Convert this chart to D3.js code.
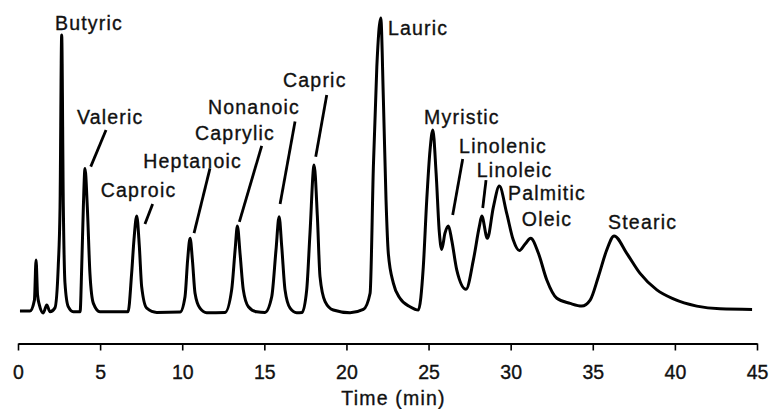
<!DOCTYPE html>
<html>
<head>
<meta charset="utf-8">
<script src="https://cdn.jsdelivr.net/npm/d3@7"></script>
<style>
  body { margin: 0; background: #fff; }
  text { font-family: "Liberation Sans", Arial, sans-serif; fill: #111; stroke: #111; stroke-width: 0.35px; }
</style>
</head>
<body>
<div id="chart"></div>
<script>
const width = 770;
const height = 409;

// chromatogram trace: time (min) and detector signal (arbitrary units)
const timeMin = [0.12, 0.73, 1.00, 1.10, 1.19, 1.30, 1.54, 1.75, 1.95, 2.25,
  2.45, 2.56, 2.66, 2.76, 2.86, 3.06, 3.37, 3.78, 3.88, 3.98,
  4.08, 4.22, 4.38, 4.59, 4.99, 6.70, 6.92, 7.06, 7.23, 7.39,
  7.53, 7.84, 8.45, 9.87, 10.17, 10.33, 10.48, 10.62, 10.78, 11.08,
  11.49, 12.61, 13.01, 13.22, 13.36, 13.52, 13.72, 14.03, 14.54, 15.04,
  15.45, 15.71, 15.90, 16.06, 16.26, 16.57, 16.97, 17.30, 17.58, 17.78,
  18.03, 18.23, 18.39, 18.70, 19.20, 20.22, 21.03, 21.44, 21.64, 21.85,
  22.09, 22.25, 22.41, 22.55, 22.86, 23.26, 23.87, 24.38, 24.68, 24.89,
  25.09, 25.26, 25.46, 25.66, 25.80, 26.00, 26.21, 26.41, 26.72, 27.28,
  27.73, 28.09, 28.24, 28.58, 28.95, 29.31, 29.76, 30.16, 30.53, 30.88,
  31.22, 31.69, 32.20, 32.81, 33.62, 34.33, 34.84, 35.34, 35.85, 36.30,
  37.07, 37.88, 38.90, 39.91, 41.33, 42.75, 44.70];
const signal = [0.7, 0.7, 4.3, 17.7, 6.0, 2.7, 0.0, 2.7, 0.4, 1.7,
  15.4, 35.4, 92.7, 35.4, 10.0, 2.1, 0.4, 0.4, 15.4, 35.4,
  48.2, 35.4, 13.2, 3.2, 0.4, 0.4, 13.2, 24.3, 32.3, 22.1,
  8.8, 1.6, 0.2, 0.3, 5.4, 17.7, 24.9, 17.7, 6.6, 1.6,
  0.1, 0.2, 7.7, 21.0, 29.0, 19.9, 7.7, 2.1, 0.4, 0.2,
  5.4, 21.0, 32.1, 22.1, 7.7, 1.6, 0.1, 0.2, 7.7, 26.6,
  49.3, 32.1, 12.1, 3.8, 1.0, 0.1, 1.2, 6.6, 48.8, 82.1,
  98.3, 71.0, 37.7, 19.9, 9.9, 4.9, 2.1, 1.0, 15.4, 37.7,
  54.3, 61.0, 46.6, 26.6, 21.2, 26.6, 29.0, 24.3, 14.3, 7.9,
  17.7, 28.8, 32.3, 24.9, 35.4, 42.3, 33.2, 24.3, 20.8, 23.0,
  24.9, 19.9, 11.0, 4.9, 3.2, 2.3, 4.3, 12.1, 21.0, 25.7,
  19.9, 13.2, 7.7, 4.7, 2.3, 1.4, 1.2];

// peak labels: name, where the text sits (time, signal) and leader line ends
const peakNames = ["Butyric", "Valeric", "Caproic", "Heptanoic", "Caprylic", "Nonanoic", "Capric",
  "Lauric", "Myristic", "Linolenic", "Linoleic", "Palmitic", "Oleic", "Stearic"];
const labelTime = [2.25, 3.59, 5.04, 7.63, 10.78, 11.57, 16.14, 22.53, 24.73, 26.86, 27.94, 29.84, 30.68, 35.93];
const labelSignal = [94.3, 63.0, 38.7, 48.5, 57.7, 66.3, 75.3, 92.7, 63.0, 53.3, 45.4, 37.7, 29.0, 28.0];
const leaders = [null, [5.36, 61.0, 4.43, 48.8], [8.20, 36.3, 7.73, 29.7], [11.69, 48.2, 10.72, 26.6],
  [14.84, 55.7, 13.48, 30.4], [16.87, 63.8, 15.96, 36.3], [18.80, 72.7, 18.13, 52.1],
  null, null, [27.08, 51.3, 26.47, 32.7], [28.50, 44.3, 28.30, 35.0], null, null, null];

const xTicks = [0, 5, 10, 15, 20, 25, 30, 35, 40, 45];

const svg = d3.select("#chart").append("svg")
    .attr("width", width).attr("height", height);

const x = d3.scaleLinear().domain([0, 45]).range([18, 757]);
const y = d3.scaleLinear().domain([0, 100]).range([313, 13]);

const line = d3.line()
    .x(i => x(timeMin[i]))
    .y(i => y(signal[i]))
    .curve(d3.curveMonotoneX);

svg.append("path")
    .attr("d", line(d3.range(timeMin.length)))
    .attr("fill", "none")
    .attr("stroke", "#000")
    .attr("stroke-width", 3)
    .attr("stroke-linejoin", "round");

// leader lines
svg.append("g").selectAll("line")
    .data(leaders.filter(d => d))
    .enter().append("line")
    .attr("x1", d => x(d[0])).attr("y1", d => y(d[1]))
    .attr("x2", d => x(d[2])).attr("y2", d => y(d[3]))
    .attr("stroke", "#000")
    .attr("stroke-width", 2.8);

svg.append("g").selectAll("text")
    .data(peakNames)
    .enter().append("text")
    .attr("x", (d, i) => x(labelTime[i]))
    .attr("y", (d, i) => y(labelSignal[i]))
    .style("font-size", "19.5px")
    .style("letter-spacing", "1.2px")
    .text(d => d);

// time axis
const axis = svg.append("g")
    .attr("transform", "translate(0,343.5)")
    .call(d3.axisBottom(x).tickValues(xTicks).tickSize(7).tickSizeOuter(0).tickPadding(15));

axis.select(".domain").attr("stroke", "#000").attr("stroke-width", 2);
axis.selectAll(".tick line").attr("stroke", "#000").attr("stroke-width", 1.6);
axis.selectAll(".tick text")
    .style("font-size", "19.5px")
    .style("font-family", "'Liberation Sans', Arial, sans-serif")
    .attr("fill", "#111");

svg.append("text")
    .attr("x", (x.range()[0] + x.range()[1]) / 2 + 6)
    .attr("y", 405)
    .attr("text-anchor", "middle")
    .style("font-size", "19.5px")
    .style("letter-spacing", "1.2px")
    .text("Time (min)");
</script>
</body>
</html>
